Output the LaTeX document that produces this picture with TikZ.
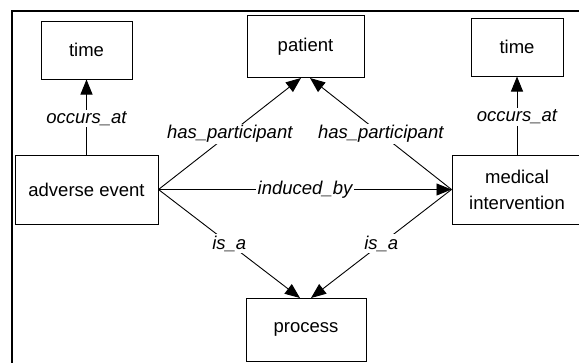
\documentclass[tikz,border=0pt]{standalone}
\usepackage{fontspec}
\setmainfont{Liberation Sans}
\usetikzlibrary{arrows.meta}
\begin{document}
\begin{tikzpicture}[x=1pt,y=-1pt,
  box/.style={draw,line width=1pt,inner sep=0pt,font=\fontsize{18.5}{26}\selectfont,align=center},
  rel/.style={line width=0.9pt,-{Triangle[length=15pt,width=12pt]}},
  lbl/.style={fill=white,inner sep=1.5pt,font=\fontsize{18.5}{21}\selectfont\itshape}]
\useasboundingbox (0,0) rectangle (579,362);
\draw[line width=2pt] (11.5,364) -- (11.5,10.5) -- (581,10.5);
\node[box,minimum width=91pt,minimum height=58pt] (t1) at (86.5,50) {time};
\node[box,minimum width=117pt,minimum height=62pt] (pat) at (305.5,46.5) {patient};
\node[box,minimum width=92pt,minimum height=58pt] (t2) at (517,47) {time};
\node[box,minimum width=143pt,minimum height=69pt] (ae) at (86.5,189.5) {adverse event};
\node[box,minimum width=130pt,minimum height=69pt] (mi) at (517,189.5) {medical\\intervention};
\node[box,minimum width=120pt,minimum height=63pt] (pr) at (306,329.5) {process};
\coordinate (pl) at (301,78);
\coordinate (pr2) at (310,78);
\coordinate (ql) at (300,298);
\coordinate (qr) at (311,298);
\draw[rel] (ae.north) -- node[lbl,pos=0.48] {occurs\_at} (t1.south);
\draw[rel] (mi.north) -- node[lbl,pos=0.48] {occurs\_at} (t2.south);
\draw[rel] (ae.east) -- node[lbl] {has\_participant} (pl);
\draw[rel] (mi.west) -- node[lbl] {has\_participant} (pr2);
\draw[rel] (ae.east) -- node[lbl] {induced\_by} (mi.west);
\draw[rel] (ae.east) -- node[lbl] {is\_a} (ql);
\draw[rel] (mi.west) -- node[lbl] {is\_a} (qr);
\end{tikzpicture}
\end{document}
